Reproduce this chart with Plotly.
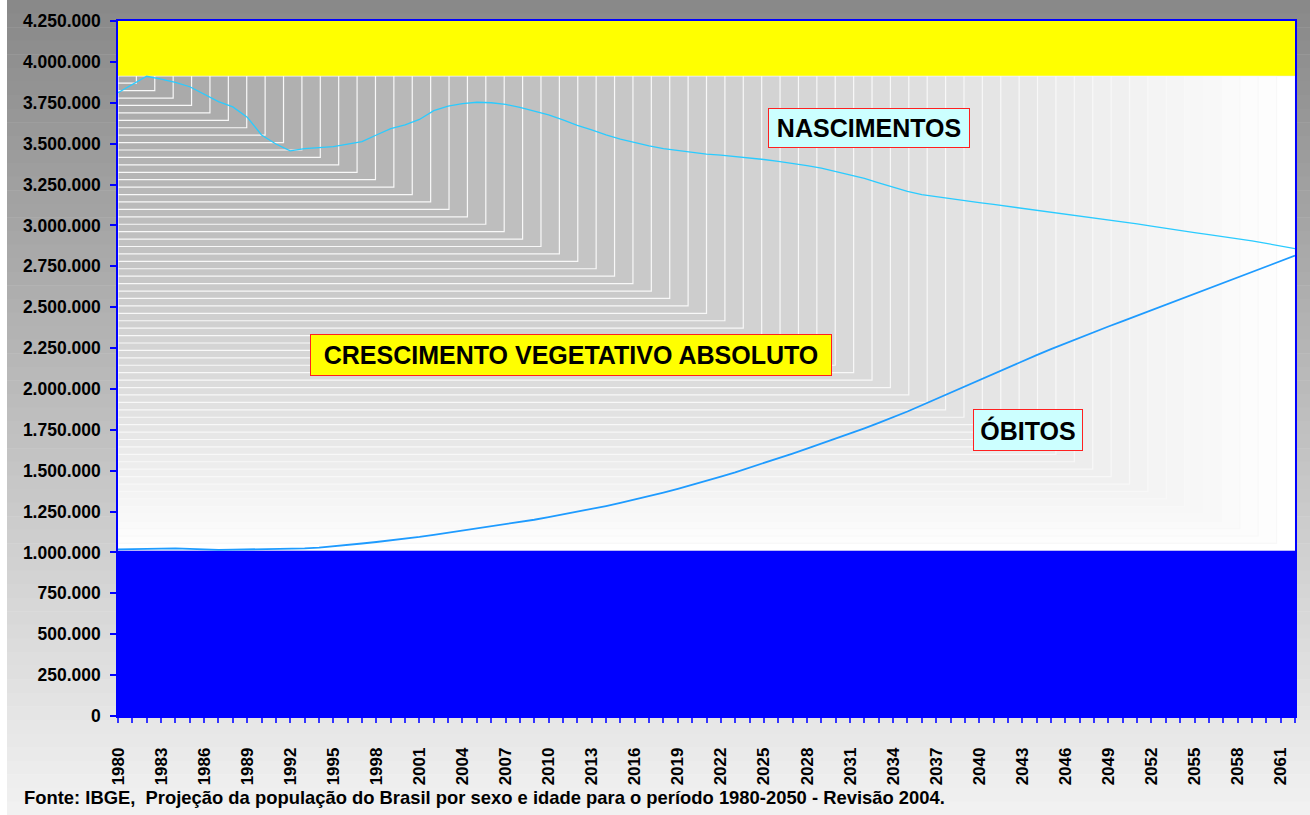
import plotly.graph_objects as go

# ---------------- data ----------------
years = list(range(1980, 2063))

nascimentos = [  # thousands
    3812, 3862, 3912, 3895, 3875, 3848, 3802, 3757, 3725, 3662,
    3553, 3498, 3456, 3470, 3476, 3482, 3497, 3512, 3553, 3592,
    3615, 3648, 3702, 3730, 3745, 3753, 3750, 3740, 3722, 3700,
    3676, 3645, 3612, 3584, 3553, 3527, 3505, 3487, 3470, 3458,
    3447, 3436, 3430, 3422, 3414, 3403, 3392, 3380, 3366, 3350,
    3330, 3311, 3287, 3260, 3233, 3208, 3188, 3175, 3163, 3151,
    3140, 3128, 3116, 3104, 3093, 3082, 3071, 3060, 3048, 3036,
    3024, 3010, 2995, 2981, 2968, 2956, 2944, 2932, 2920, 2905,
    2890, 2874, 2858,
]
obitos = [  # thousands
    1019, 1022, 1025, 1024, 1025, 1022, 1017, 1016, 1017, 1018,
    1018, 1019, 1020, 1025, 1030, 1037, 1045, 1055, 1064, 1073,
    1082, 1095, 1108, 1121, 1135, 1148, 1160, 1172, 1186, 1200,
    1216, 1232, 1249, 1266, 1284, 1303, 1323, 1344, 1366, 1389,
    1413, 1438, 1464, 1490, 1518, 1547, 1576, 1605, 1635, 1665,
    1696, 1727, 1759, 1792, 1825, 1862, 1900, 1939, 1978, 2017,
    2056, 2095, 2133, 2170, 2207, 2243, 2279, 2314, 2348, 2382,
    2415, 2448, 2481, 2514, 2547, 2580, 2613, 2646, 2679, 2712,
    2745, 2778, 2815,
]
nascimentos = [v * 1000 for v in nascimentos]
obitos = [v * 1000 for v in obitos]

blue_band_top = 1010000
yellow_band_bottom = 3915000
y_max = 4250000
y_step = 250000

label_nasc = "NASCIMENTOS"
label_cresc = "CRESCIMENTO VEGETATIVO ABSOLUTO"
label_obitos = "ÓBITOS"
source_text = ("Fonte: IBGE,\u00a0 Projeção da população do Brasil por sexo e idade "
               "para o período 1980-2050 - Revisão 2004.")

# ---------------- geometry helpers ----------------
W, H = 1310, 815
L, R, T, B = 118, 15, 21, 99
PW, PH = W - L - R, H - T - B


def px_x(p):
    return (p - L) / PW


def px_y(q):
    return (H - B - q) / PH


def gray(v):
    v = int(round(max(0, min(255, v))))
    return f"rgb({v},{v},{v})"


shapes = []
# outer vertical gradient background
n_strips = 60
for i in range(n_strips):
    q0 = H * i / n_strips
    q1 = H * (i + 1) / n_strips + 0.5
    lvl = 136 + (242 - 136) * (i + 0.5) / n_strips
    shapes.append(dict(type="rect", xref="paper", yref="paper",
                       x0=px_x(7), x1=px_x(W + 2), y0=px_y(q1), y1=px_y(q0),
                       fillcolor=gray(lvl), line=dict(width=0), layer="below"))

# corner gradient of the middle area (concentric rectangles from top-left)
N = 64
x_start, x_end = years[0], years[-1]
for k in range(N, 0, -1):
    t = (k - 1) / (N - 1)
    lvl = 168 + 87 * t ** 1.2
    shapes.append(dict(type="rect", xref="x", yref="y",
                       x0=x_start, x1=x_start + (x_end - x_start) * k / N,
                       y0=yellow_band_bottom - (yellow_band_bottom - blue_band_top) * k / N,
                       y1=yellow_band_bottom,
                       fillcolor=gray(lvl),
                       line=dict(color="rgb(248,248,248)", width=1.2),
                       layer="below"))

fig = go.Figure()

# blue lower band
fig.add_trace(go.Scatter(x=years, y=[blue_band_top] * len(years), mode="lines",
                         line=dict(width=0, color="#0000ff"), fill="tozeroy",
                         fillcolor="#0000ff", hoverinfo="skip", showlegend=False))
# yellow upper band
fig.add_trace(go.Scatter(x=years, y=[yellow_band_bottom] * len(years), mode="lines",
                         line=dict(width=0, color="#ffff00"), hoverinfo="skip",
                         showlegend=False))
fig.add_trace(go.Scatter(x=years, y=[y_max] * len(years), mode="lines",
                         line=dict(width=0, color="#ffff00"), fill="tonexty",
                         fillcolor="#ffff00", hoverinfo="skip", showlegend=False))
# lines
fig.add_trace(go.Scatter(x=years, y=nascimentos, mode="lines", name="Nascimentos",
                         line=dict(color="#2acbff", width=1.3), showlegend=False))
fig.add_trace(go.Scatter(x=years, y=obitos, mode="lines", name="Óbitos",
                         line=dict(color="#1e9bff", width=1.8), showlegend=False))

font_family = "Liberation Sans, Arial, sans-serif"
label_font = dict(family=font_family, size=25, color="black", weight="bold")

annotations = [
    dict(x=2032.3, y=3596000, xref="x", yref="y", text=label_nasc, showarrow=False,
         font=label_font, bgcolor="#ccffff", bordercolor="#ff2020", borderwidth=1,
         borderpad=2, width=196, height=34),
    dict(x=2011.56, y=2207000, xref="x", yref="y", text=label_cresc, showarrow=False,
         font=label_font, bgcolor="#ffff00", bordercolor="#ff2020", borderwidth=1,
         borderpad=2, width=516, height=36),
    dict(x=2043.4, y=1749000, xref="x", yref="y", text=label_obitos, showarrow=False,
         font=label_font, bgcolor="#ccffff", bordercolor="#ff2020", borderwidth=1,
         borderpad=2, width=104, height=36),
    dict(x=px_x(22), y=px_y(797), xref="paper", yref="paper", xanchor="left",
         yanchor="middle", text=source_text, showarrow=False,
         font=dict(family=font_family, size=18.4, color="black", weight="bold")),
]

fig.update_layout(
    width=W, height=H,
    margin=dict(l=L, r=R, t=T, b=B, pad=0),
    paper_bgcolor="white",
    plot_bgcolor="rgba(0,0,0,0)",
    separators=",.",
    shapes=shapes,
    annotations=annotations,
    hovermode=False,
    xaxis=dict(
        range=[years[0], years[-1]], tick0=1980, dtick=3, tickformat="d",
        ticks="outside", ticklen=5, tickcolor="#3333ff", tickwidth=1.5,
        tickangle=-90, ticklabelstandoff=18,
        tickfont=dict(family=font_family, size=17, color="black", weight="bold"),
        minor=dict(dtick=1, ticks="outside", ticklen=5, tickcolor="#3333ff", tickwidth=1.5),
        showgrid=False, zeroline=False,
        showline=True, linecolor="#0000ff", linewidth=1.5, mirror=True,
    ),
    yaxis=dict(
        range=[0, y_max], tick0=0, dtick=y_step, tickformat=",d",
        ticks="outside", ticklen=6, tickcolor="#0000ff", tickwidth=1.5,
        ticklabelstandoff=6,
        tickfont=dict(family=font_family, size=17.5, color="black", weight="bold"),
        showgrid=False, zeroline=False,
        showline=True, linecolor="#0000ff", linewidth=1.5, mirror=True,
    ),
)

fig.write_html("out.html", config={"displayModeBar": False},
               post_script="document.body.style.margin='0';document.body.style.overflow='hidden';")
